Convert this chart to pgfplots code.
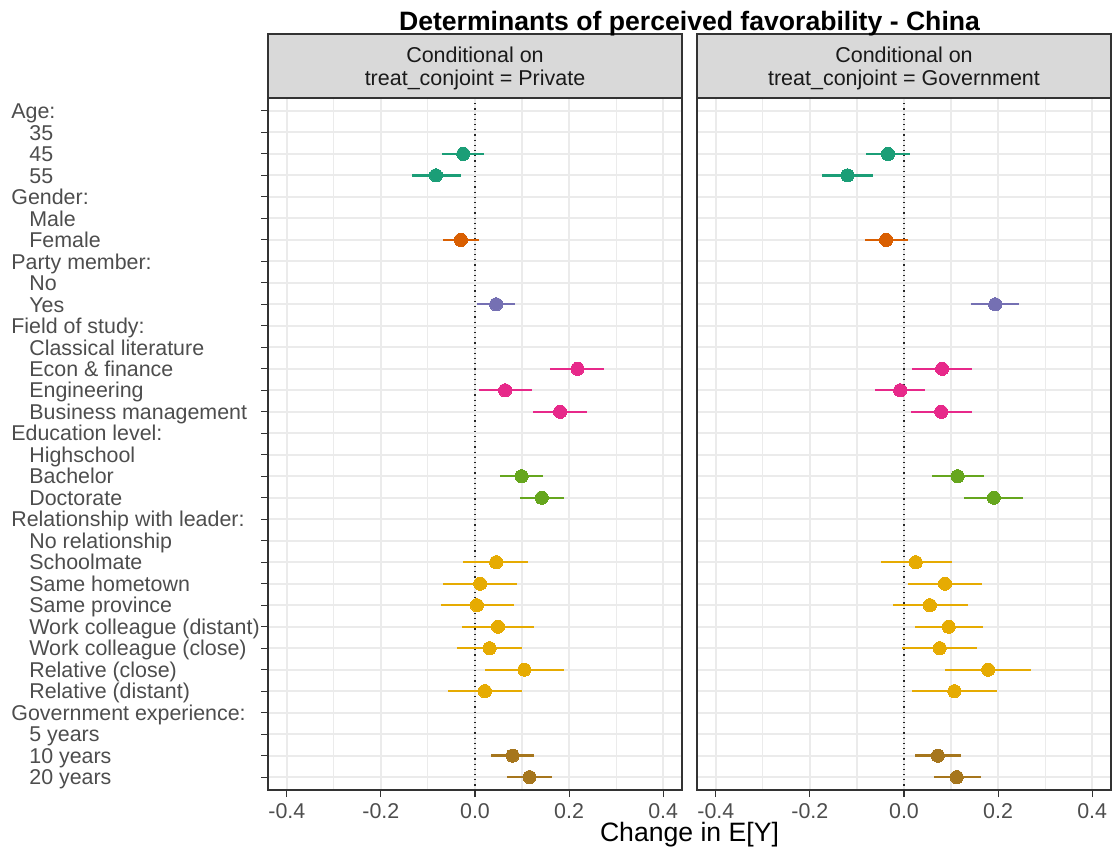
\documentclass[border=0pt]{standalone}
\usepackage{pgfplots}
\pgfplotsset{compat=1.18}
\usepackage{pgfplotstable}
\usepackage{fontspec}
\setmainfont{Liberation Sans}
\definecolor{c1}{HTML}{1B9E77}
\definecolor{c2}{HTML}{D95F02}
\definecolor{c3}{HTML}{7570B3}
\definecolor{c4}{HTML}{E7298A}
\definecolor{c5}{HTML}{66A61E}
\definecolor{c6}{HTML}{E6AB02}
\definecolor{c7}{HTML}{A6761D}
\definecolor{gridc}{HTML}{EBEBEB}
\definecolor{bordc}{HTML}{333333}
\definecolor{tickc}{HTML}{4D4D4D}
\definecolor{stripc}{HTML}{D9D9D9}
\definecolor{stript}{HTML}{1A1A1A}

\pgfplotstableread{
y est lo hi g
3 -0.025 -0.071 0.020 1
4 -0.083 -0.134 -0.030 1
7 -0.030 -0.069 0.009 2
10 0.045 0.004 0.086 3
13 0.218 0.160 0.275 4
14 0.064 0.008 0.122 4
15 0.181 0.124 0.239 4
18 0.099 0.053 0.145 5
19 0.142 0.095 0.190 5
22 0.045 -0.025 0.112 6
23 0.011 -0.069 0.090 6
24 0.004 -0.073 0.083 6
25 0.049 -0.027 0.126 6
26 0.031 -0.038 0.099 6
27 0.105 0.021 0.189 6
28 0.021 -0.058 0.100 6
31 0.080 0.034 0.126 7
32 0.116 0.067 0.163 7
}\priv

\pgfplotstableread{
y est lo hi g
3 -0.034 -0.080 0.013 1
4 -0.120 -0.175 -0.065 1
7 -0.038 -0.083 0.008 2
10 0.194 0.142 0.245 3
13 0.081 0.018 0.144 4
14 -0.008 -0.061 0.045 4
15 0.079 0.015 0.144 4
18 0.114 0.059 0.169 5
19 0.191 0.128 0.254 5
22 0.025 -0.049 0.101 6
23 0.087 0.009 0.165 6
24 0.055 -0.024 0.136 6
25 0.095 0.023 0.168 6
26 0.076 -0.004 0.156 6
27 0.179 0.088 0.270 6
28 0.107 0.018 0.198 6
31 0.072 0.023 0.122 7
32 0.112 0.064 0.163 7
}\gov

\newcommand\ind{\hspace*{9pt}}

\pgfplotsset{
  panel/.style={
    scale only axis, width=207pt, height=346pt,
    anchor=south west,
    xmin=-0.44, xmax=0.44, ymin=0.4, ymax=32.6, y dir=reverse,
    xtick={-0.4,-0.2,0,0.2,0.4},
    xticklabels={-0.4,-0.2,0.0,0.2,0.4},
    minor xtick={-0.3,-0.1,0.1,0.3},
    ytick={1,...,32},
    xmajorgrids, ymajorgrids, xminorgrids,
    major grid style={draw=gridc, line width=1pt},
    minor grid style={draw=gridc, line width=0.55pt},
    axis line style={draw=bordc, line width=0.75pt},
    tick align=outside, tick pos=left,
    major tick length=3.5pt, minor tick length=0pt,
    tick style={draw=bordc, line width=0.55pt},
    xticklabel style={text=tickc, font=\fontsize{10.7}{12.8}\selectfont, yshift=0.5pt},
    axis on top=false,
    clip=false,
  },
}

\newcommand\grp[3]{%
  \addplot[only marks, mark=*, mark size=3.3pt, color=#2,
    mark options={draw=#2, fill=#2, line width=0pt},
    restrict expr to domain={\thisrow{g}}{#1:#1},
    error bars/.cd, x dir=both, x explicit, error mark=none,
    error bar style={line width=1.15pt, color=#2}]
  table[x=est, y=y,
    x error plus expr=\thisrow{hi}-\thisrow{est},
    x error minus expr=\thisrow{est}-\thisrow{lo}] {#3};
}

\newcommand\allgroups[1]{%
  \draw[black!85, dotted, line width=0.6pt] (axis cs:0,0.4) -- (axis cs:0,32.6);
  \grp{1}{c1}{#1}
  \grp{2}{c2}{#1}
  \grp{3}{c3}{#1}
  \grp{4}{c4}{#1}
  \grp{5}{c5}{#1}
  \grp{6}{c6}{#1}
  \grp{7}{c7}{#1}
}

\begin{document}
\begin{tikzpicture}
\path[use as bounding box] (0,0) rectangle (557pt,-426pt);

% left panel
\begin{axis}[panel, at={(134pt,-395pt)},
  yticklabels={Age:,\ind 35,\ind 45,\ind 55,Gender:,\ind Male,\ind Female,Party member:,\ind No,\ind Yes,Field of study:,\ind Classical literature,\ind Econ \& finance,\ind Engineering,\ind Business management,Education level:,\ind Highschool,\ind Bachelor,\ind Doctorate,Relationship with leader:,\ind No relationship,\ind Schoolmate,\ind Same hometown,\ind Same province,\ind Work colleague (distant),\ind Work colleague (close),\ind Relative (close),\ind Relative (distant),Government experience:,\ind 5 years,\ind 10 years,\ind 20 years},
  yticklabel style={anchor=west, inner xsep=0pt, inner ysep=0pt, xshift=-125pt, text=tickc,
    font=\fontsize{10.7}{12.8}\selectfont, text height=7.7pt, text depth=0pt},
]
\allgroups{\priv}
\end{axis}

% right panel
\begin{axis}[panel, at={(348.5pt,-395pt)},
  yticklabels={}, ytick style={draw=none},
]
\allgroups{\gov}
\end{axis}

% strips
\draw[fill=stripc, draw=bordc, line width=0.75pt] (134pt,-49pt) rectangle (341pt,-17pt);
\draw[fill=stripc, draw=bordc, line width=0.75pt] (348.5pt,-49pt) rectangle (555.5pt,-17pt);
\node[text=stript, align=center, font=\fontsize{10.75}{11.6}\selectfont] at (237.5pt,-34.3pt)
  {Conditional on\\treat\_conjoint = Private};
\node[text=stript, align=center, font=\fontsize{10.75}{11.6}\selectfont] at (452pt,-34.3pt)
  {Conditional on\\treat\_conjoint = Government};

% title
\node[anchor=base, font=\fontsize{13.3}{15}\selectfont\bfseries] at (344.75pt,-15pt)
  {Determinants of perceived favorability - China};
% x axis title
\node[anchor=base, font=\fontsize{13.3}{15}\selectfont] at (344.75pt,-420.5pt)
  {Change in E[Y]};
\end{tikzpicture}
\end{document}
